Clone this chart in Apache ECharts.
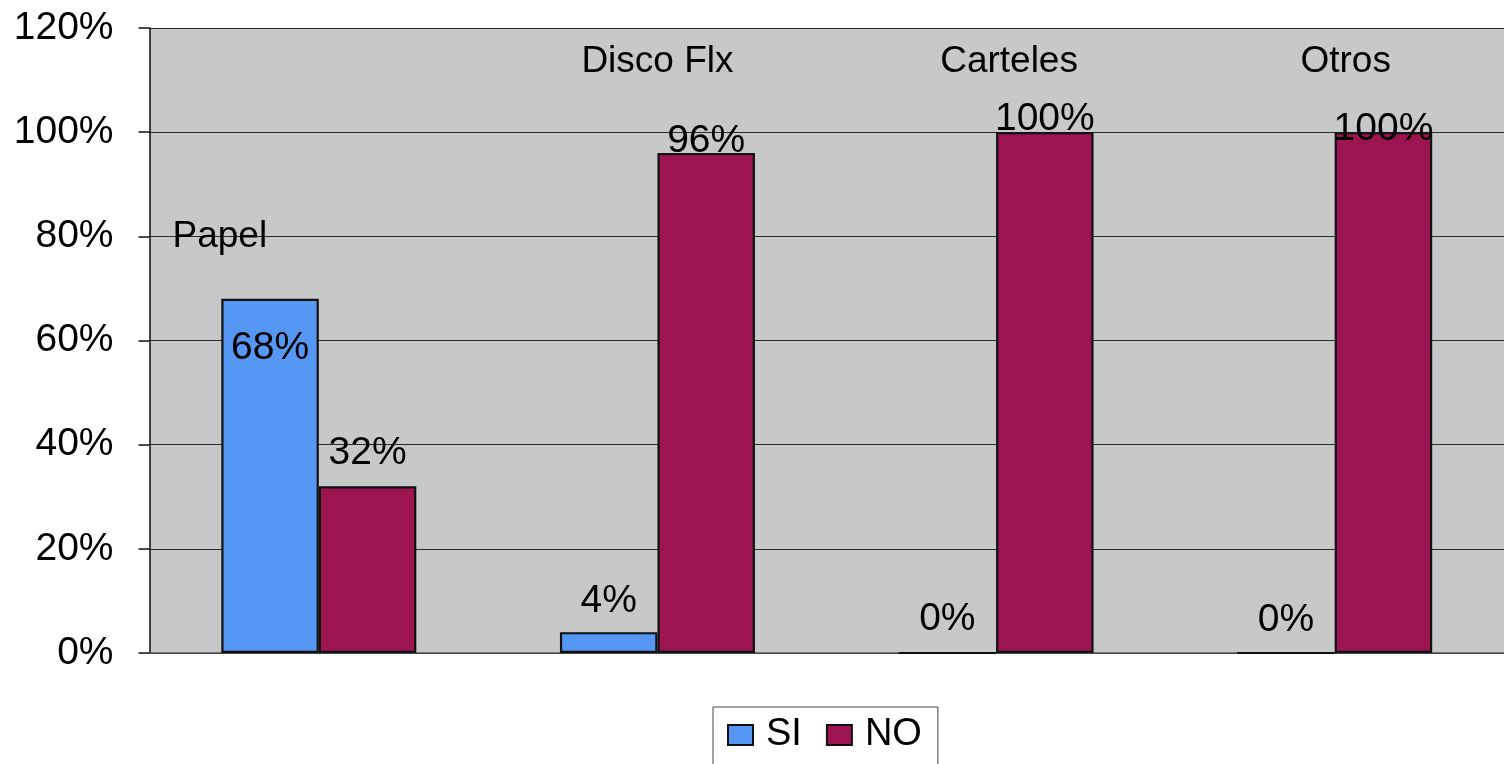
<!DOCTYPE html>
<html>
<head>
<meta charset="utf-8">
<script src="https://cdn.jsdelivr.net/npm/echarts@6/dist/echarts.min.js"></script>
<style>
  html, body { margin: 0; padding: 0; background: #ffffff; }
  #chart { width: 1504px; height: 764px; }
</style>
</head>
<body>
<div id="chart"></div>
<script>
// Medio utilizado: respuestas SI / NO por categoría (porcentajes)
const categories = ['Papel', 'Disco Flx', 'Carteles', 'Otros'];
const siValues = [68, 4, 0, 0];
const noValues = [32, 96, 100, 100];
const seriesNames = ['SI', 'NO'];
const yTickMax = 120;
const yTickStep = 20;

// Placement of the category captions inside the plot (value level + pixel nudges)
const captionLevel = [80, 113.5, 113.5, 113.5];
const captionNudge = [[-99, 0], [0, 0], [13, 0], [11, 0]];
// Per-bar vertical nudges of the value labels
const siLabelNudge = [69, -11, -13, -12];
const noLabelNudge = [-14, 8, 7, 17];

const FONT = '"Liberation Sans", Arial, sans-serif';
const SI_COLOR = '#5597f2';
const NO_COLOR = '#9c1550';

function barData(values, nudges) {
  return values.map((v, i) => ({
    value: v,
    label: { offset: [0, nudges[i]] }
  }));
}

const chart = echarts.init(document.getElementById('chart'), null, { renderer: 'canvas' });

const valueLabel = {
  show: true,
  position: 'top',
  distance: 0,
  formatter: '{c}%',
  color: '#000',
  fontFamily: FONT,
  fontSize: 39
};

chart.setOption({
  animation: false,
  backgroundColor: '#ffffff',
  grid: {
    left: 149.5,
    top: 28,
    width: 1366,
    height: 625,
    show: true,
    backgroundColor: '#c7c8ca',
    borderWidth: 0
  },
  legend: {
    data: seriesNames,
    left: 713,
    top: 707,
    orient: 'horizontal',
    icon: 'rect',
    itemWidth: 25,
    itemHeight: 20,
    itemGap: 24,
    padding: [9, 16, 20, 14],
    backgroundColor: '#ffffff',
    borderColor: '#444',
    borderWidth: 1,
    borderRadius: 0,
    textStyle: { fontFamily: FONT, fontSize: 38, color: '#000', padding: [0, 0, 0, 8] }
  },
  xAxis: [{
    type: 'category',
    data: categories,
    axisLine: { show: true, lineStyle: { color: '#555', width: 1.5 } },
    axisTick: { show: false },
    axisLabel: { show: false },
    splitLine: { show: false }
  }],
  yAxis: [{
    type: 'value',
    min: 0,
    max: yTickMax,
    interval: yTickStep,
    axisLine: { show: true, lineStyle: { color: '#111', width: 1.5 } },
    axisTick: { show: true, length: 11, lineStyle: { color: '#111', width: 1.5 } },
    axisLabel: {
      margin: 36,
      formatter: '{value}%',
      color: '#000',
      fontFamily: FONT,
      fontSize: 39
    },
    splitLine: { show: true, lineStyle: { color: '#2a2a2a', width: 1.2 } }
  }],
  series: [
    {
      name: seriesNames[0],
      type: 'bar',
      barWidth: 97.5,
      barGap: '0%',
      data: barData(siValues, siLabelNudge),
      itemStyle: { color: SI_COLOR, borderColor: '#111', borderWidth: 2.2 },
      label: valueLabel
    },
    {
      name: seriesNames[1],
      type: 'bar',
      barWidth: 97.5,
      barGap: '0%',
      data: barData(noValues, noLabelNudge),
      itemStyle: { color: NO_COLOR, borderColor: '#111', borderWidth: 2.2 },
      label: valueLabel
    },
    {
      name: 'captions',
      type: 'scatter',
      silent: true,
      symbolSize: 0,
      z: 5,
      itemStyle: { opacity: 1 },
      data: categories.map((c, i) => ({
        value: [i, captionLevel[i]],
        label: { offset: captionNudge[i] }
      })),
      label: {
        show: true,
        position: 'inside',
        formatter: (p) => categories[p.dataIndex],
        color: '#000',
        opacity: 1,
        textBorderWidth: 0,
        fontFamily: FONT,
        fontSize: 37
      }
    }
  ]
});
</script>
</body>
</html>
